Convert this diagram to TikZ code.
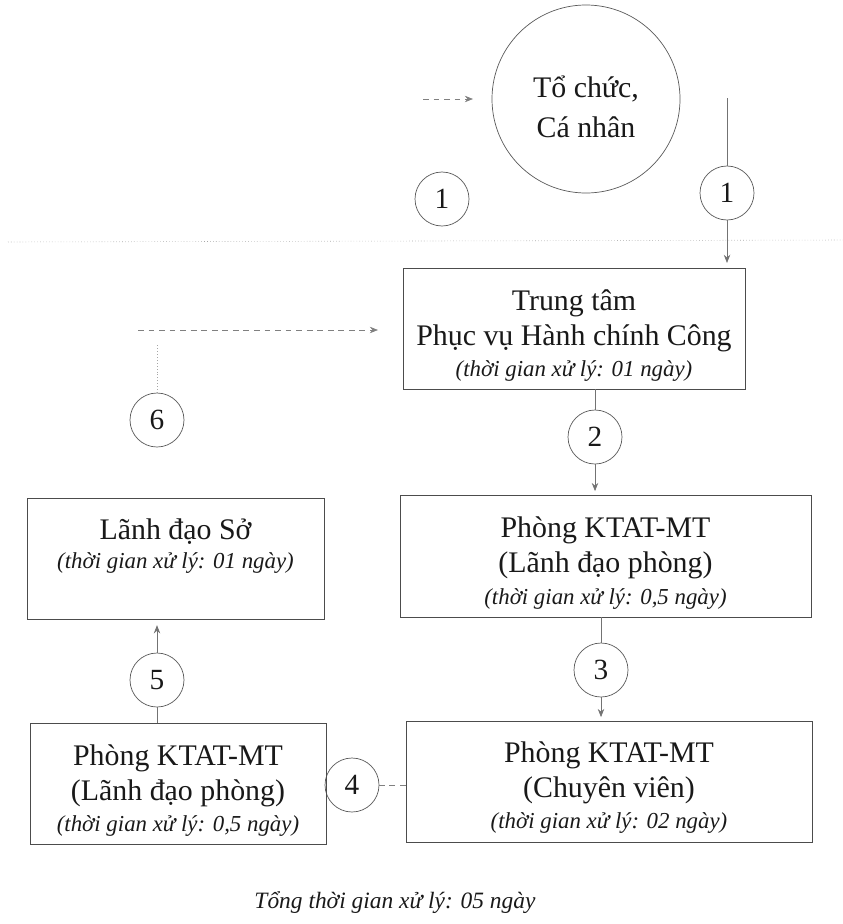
\documentclass[tikz,border=0pt]{standalone}
\usepackage{fontspec}
\setmainfont{Liberation Serif}
\usetikzlibrary{arrows.meta}
\tikzset{
  boxnode/.style={draw=black!70, line width=0.6pt, inner sep=0pt},
  boxtext/.style={align=center, inner sep=0pt, font=\fontsize{25.5}{30}\selectfont, text=black!90},
  numcirc/.style={draw=black!65, line width=0.6pt, circle, minimum size=1.62cm, inner sep=0pt,
    font=\fontsize{25}{30}\selectfont, text=black!90},
  conn/.style={draw=black!55, line width=0.6pt},
  dconn/.style={draw=black!50, line width=0.6pt, dash pattern=on 5pt off 4pt},
  tip/.style={-{Stealth[length=7pt,width=5.5pt]}},
}
\newcommand{\tnote}[1]{{\fontsize{19.5}{28}\selectfont\itshape #1}}
\begin{document}
\begin{tikzpicture}[x=0.03cm,y=-0.03cm]
\useasboundingbox (0,0) rectangle (843,924);
% faint dotted scan line
\draw[black!35, line width=0.5pt, dotted] (8,242) -- (843,240);
% big circle
\node[draw=black!65, line width=0.6pt, circle, minimum size=5.64cm, inner sep=0pt] (org) at (586,99) {};
\node[boxtext, font=\fontsize{25.5}{34}\selectfont] (orgt) at (586,107) {Tổ chức,\\Cá nhân};
% step circles
\node[numcirc] (c1a) at (442,199) {1};
\node[numcirc] (c1b) at (727,193) {1};
\node[numcirc] (c2) at (595,437) {2};
\node[numcirc] (c3) at (601,670) {3};
\node[numcirc] (c4) at (352,785) {4};
\node[numcirc] (c5) at (157,680) {5};
\node[numcirc] (c6) at (157,420) {6};
% boxes
\node[boxnode, minimum width=10.26cm, minimum height=3.63cm] (tt) at (574,328.5) {};
\node[boxtext] (ttt) at (574,335.5)
  {Trung tâm\\Phục vụ Hành chính Công\\[-3pt]\tnote{(thời gian xử lý: 01 ngày)}};
\node[boxnode, minimum width=8.91cm, minimum height=3.63cm] (lds) at (175.5,558.5) {};
\node[boxtext] (ldst) at (175.5,546)
  {Lãnh đạo Sở\\[-5pt]\tnote{(thời gian xử lý: 01 ngày)}};
\node[boxnode, minimum width=12.33cm, minimum height=3.66cm] (k1) at (605.5,556) {};
\node[boxtext] (k1t) at (605.5,563)
  {Phòng KTAT-MT\\(Lãnh đạo phòng)\\[-3pt]\tnote{(thời gian xử lý: 0,5 ngày)}};
\node[boxnode, minimum width=12.18cm, minimum height=3.63cm] (k3) at (609,781.5) {};
\node[boxtext] (k3t) at (609,787.5)
  {Phòng KTAT-MT\\(Chuyên viên)\\[-3pt]\tnote{(thời gian xử lý: 02 ngày)}};
\node[boxnode, minimum width=8.88cm, minimum height=3.63cm] (k4) at (178,783.5) {};
\node[boxtext] (k4t) at (178,790.5)
  {Phòng KTAT-MT\\(Lãnh đạo phòng)\\[-3pt]\tnote{(thời gian xử lý: 0,5 ngày)}};
% total
\node[font=\fontsize{20}{24}\selectfont\itshape, text=black!90] (total) at (395,903)
  {Tổng thời gian xử lý: 05 ngày};
% coordinates for free ends
\coordinate (ta) at (423,99);
\coordinate (tb) at (473,99);
\coordinate (r0) at (727,98);
\coordinate (h0) at (138,330);
\coordinate (h1) at (378,330);
\coordinate (v6) at (157,345);
% connectors
\draw[dconn, tip] (ta) -- (tb);
\draw[conn] (r0) -- (c1b.north);
\draw[conn, tip, shorten >=4pt] (c1b.south) -- (c1b.south |- tt.north);
\draw[conn] (tt.south -| c2) -- (c2.north);
\draw[conn, tip, shorten >=3pt] (c2.south) -- (c2.south |- k1.north);
\draw[conn] (k1.south -| c3) -- (c3.north);
\draw[conn, tip, shorten >=3pt] (c3.south) -- (c3.south |- k3.north);
\draw[dconn] (k3.west |- c4) -- (c4.east);
\draw[conn] (k4.north -| c5) -- (c5.south);
\draw[conn, tip, shorten >=5pt] (c5.north) -- (c5.north |- lds.south);
\draw[black!35, line width=0.5pt, dotted] (c6.north) -- (v6);
\draw[dconn, tip] (h0) -- (h1);
\end{tikzpicture}
\end{document}
